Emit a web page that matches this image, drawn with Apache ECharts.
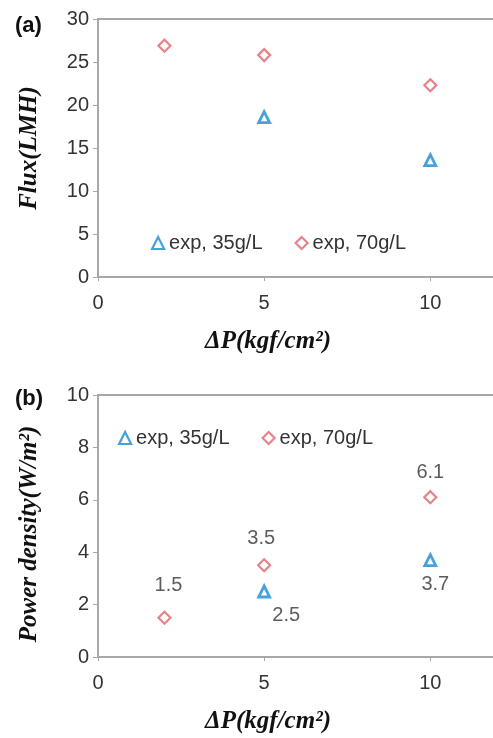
<!DOCTYPE html>
<html>
<head>
<meta charset="utf-8">
<script src="https://cdn.jsdelivr.net/npm/echarts@6/dist/echarts.min.js"></script>
<style>
html,body{margin:0;padding:0;background:#fff;}
#chart{width:493px;height:738px;}
</style>
</head>
<body>
<div id="chart"></div>
<script>
// ---- data ----
const seriesNames = ['exp, 35g/L', 'exp, 70g/L'];
const pressure35 = [5, 10];
const pressure70 = [2, 5, 10];
const flux35 = [18.6, 13.6];
const flux70 = [26.9, 25.8, 22.3];
const power35 = [2.5, 3.7];
const power70 = [1.5, 3.5, 6.1];
const xTicks = [0, 5, 10];
const fluxTicks = [0, 5, 10, 15, 20, 25, 30];
const powerTicks = [0, 2, 4, 6, 8, 10];

// ---- styling ----
const blue = '#1a8bd0';
const red = '#e0636b';
const axisGrey = '#a8a8a8';
const textCol = '#333333';
const sans = 'Liberation Sans, Arial, sans-serif';
const serif = 'Liberation Serif, Times New Roman, serif';

const chart = echarts.init(document.getElementById('chart'), null, {renderer: 'canvas'});

function xAxisCfg(gridIndex) {
  return {
    type: 'value', gridIndex, min: 0, max: 13, interval: 5,
    name: 'ΔP(kgf/cm²)', nameLocation: 'middle', nameGap: 52,
    nameTextStyle: {fontFamily: serif, fontStyle: 'italic', fontWeight: 'bold', fontSize: 25, color: '#111', padding: [0, 92, 0, 0]},
    axisLine: {show: true, onZero: false, lineStyle: {color: axisGrey, width: 2}},
    axisTick: {show: true, length: 4, lineStyle: {color: axisGrey}},
    axisLabel: {fontFamily: sans, fontSize: 20, color: textCol, margin: 16,
      formatter: v => xTicks.includes(v) ? String(v) : ''},
    splitLine: {show: false}
  };
}
function yAxisCfg(gridIndex, name, max, interval, ticks, pad) {
  return {
    type: 'value', gridIndex, min: 0, max, interval,
    name, nameLocation: 'middle', nameGap: 56,
    nameTextStyle: {fontFamily: serif, fontStyle: 'italic', fontWeight: 'bold', fontSize: 25, color: '#111', padding: pad},
    axisLine: {show: true, lineStyle: {color: axisGrey, width: 2}},
    axisTick: {show: true, length: 5, lineStyle: {color: axisGrey}},
    axisLabel: {fontFamily: sans, fontSize: 20, color: textCol, margin: 9,
      formatter: v => ticks.includes(v) ? String(v) : ''},
    splitLine: {show: false}
  };
}

function pts(xs, ys) { return xs.map((x, i) => [x, ys[i]]); }

const triStyle = {color: '#fff', borderColor: blue, borderWidth: 2.8};
const diaStyle = {color: '#fff', borderColor: red, borderWidth: 2.2};

// label placement (layout only)
const lbl70 = [{position: 'top', offset: [4, -10]}, {position: 'top', offset: [-3, -5]}, {position: 'top', offset: [0, -3]}];
const lbl35 = [{position: 'bottom', offset: [22, 2]}, {position: 'bottom', offset: [5, 3]}];
function labelled(data, lbls) {
  return data.map((d, i) => ({value: d, label: Object.assign({show: true}, lbls[i])}));
}
const labelStyle = {fontFamily: sans, fontSize: 20, color: textCol, formatter: p => p.value[1].toFixed(1)};

const option = {
  backgroundColor: '#fff',
  animation: false,
  title: [
    {text: '(a)', left: 10, top: 10, textStyle: {fontFamily: sans, fontWeight: 'bold', fontSize: 22, color: '#111'}},
    {text: '(b)', left: 10, top: 383, textStyle: {fontFamily: sans, fontWeight: 'bold', fontSize: 22, color: '#111'}}
  ],
  grid: [
    {left: 98, top: 19, width: 432, height: 258, outerBoundsMode: 'none', containLabel: false, show: true, borderColor: axisGrey, borderWidth: 2, backgroundColor: 'transparent'},
    {left: 98, top: 395, width: 432, height: 262, outerBoundsMode: 'none', containLabel: false, show: true, borderColor: axisGrey, borderWidth: 2, backgroundColor: 'transparent'}
  ],
  legend: [
    {data: seriesNames, left: 146, top: 228, itemGap: 32, itemWidth: 12, itemHeight: 12, itemStyle: {borderWidth: 2.2},
      textStyle: {fontFamily: sans, fontSize: 20, color: textCol}, selectedMode: false},
    {data: seriesNames, left: 113, top: 423, itemGap: 32, itemWidth: 12, itemHeight: 12, itemStyle: {borderWidth: 2.2},
      textStyle: {fontFamily: sans, fontSize: 20, color: textCol}, selectedMode: false}
  ],
  xAxis: [xAxisCfg(0), xAxisCfg(1)],
  yAxis: [
    yAxisCfg(0, 'Flux(LMH)', 30, 5, fluxTicks, [0, 0, 0, 0]),
    yAxisCfg(1, 'Power density(W/m²)', 10, 2, powerTicks, [0, 16, 0, 0])
  ],
  series: [
    {name: seriesNames[0], type: 'scatter', xAxisIndex: 0, yAxisIndex: 0, symbol: 'triangle', symbolSize: 11,
      itemStyle: triStyle, data: pts(pressure35, flux35)},
    {name: seriesNames[1], type: 'scatter', xAxisIndex: 0, yAxisIndex: 0, symbol: 'diamond', symbolSize: 12,
      itemStyle: diaStyle, data: pts(pressure70, flux70)},
    {name: seriesNames[0], type: 'scatter', xAxisIndex: 1, yAxisIndex: 1, symbol: 'triangle', symbolSize: 11,
      itemStyle: triStyle, label: labelStyle, data: labelled(pts(pressure35, power35), lbl35)},
    {name: seriesNames[1], type: 'scatter', xAxisIndex: 1, yAxisIndex: 1, symbol: 'diamond', symbolSize: 12,
      itemStyle: diaStyle, label: labelStyle, data: labelled(pts(pressure70, power70), lbl70)}
  ]
};
chart.setOption(option);
</script>
</body>
</html>
